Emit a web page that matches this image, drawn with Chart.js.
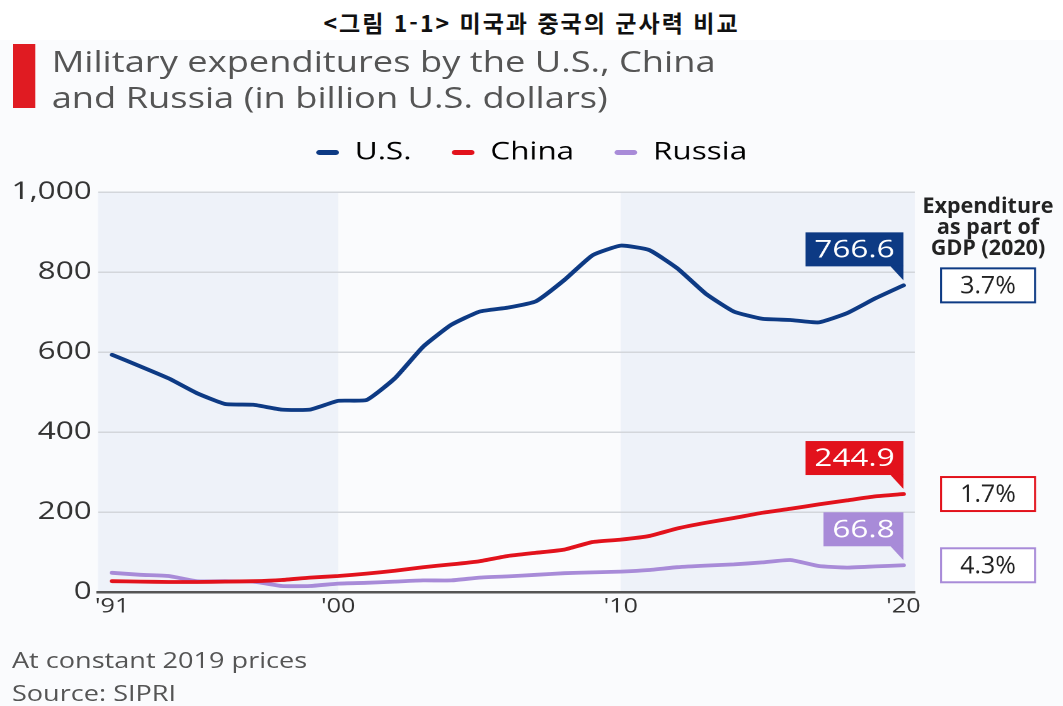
<!DOCTYPE html>
<html lang="ko">
<head>
<meta charset="utf-8">
<title>미국과 중국의 군사력 비교</title>
<script src="https://cdn.jsdelivr.net/npm/chart.js@4.4.1/dist/chart.umd.min.js"></script>
<style>
  html, body { margin: 0; padding: 0; background: #fff; }
  body { width: 1063px; height: 706px; position: relative; overflow: hidden; font-family: "Open Sans", sans-serif; }
  #fig-title {
    position: absolute; top: 6px; left: 0; width: 1063px; text-align: center;
    font-family: "Noto Sans CJK KR", sans-serif; font-weight: 700; font-size: 23px;
    letter-spacing: 2px; line-height: 32px; color: #111;
  }
  /* the graphic is laid out narrow and widened as a whole */
  #panel {
    position: absolute; left: 0; top: 40px; width: 844px; height: 666px;
    background: #fafbfd; transform: scaleX(1.26); transform-origin: 0 0;
  }
  #panel canvas { position: absolute; left: 0; top: 0; }
  .bar { position: absolute; left: 9.5px; top: 4px; width: 18.3px; height: 64px; background: #e01b22; }
  .headline { position: absolute; left: 41px; top: 3px; font-size: 28.8px; line-height: 36px; color: #555; }
  .note { position: absolute; left: 9.5px; font-size: 21.5px; line-height: 30px; color: #555; }
</style>
</head>
<body>
<div id="fig-title">&lt;그림 1-1&gt; 미국과 중국의 군사력 비교</div>
<div id="panel">
  <canvas id="chart" width="844" height="666"></canvas>
  <div class="bar"></div>
  <div class="headline">Military expenditures by the U.S., China<br>and Russia (in billion U.S. dollars)</div>
  <div class="note" style="top:605px">At constant 2019 prices</div>
  <div class="note" style="top:638px">Source: SIPRI</div>
</div>
<script>
const S = 1.26; // horizontal widening applied to #panel

const years = [1992, 1993, 1994, 1995, 1996, 1997, 1998, 1999, 2000, 2001,
               2002, 2003, 2004, 2005, 2006, 2007, 2008, 2009, 2010, 2011,
               2012, 2013, 2014, 2015, 2016, 2017, 2018, 2019, 2020];
const usSpend = [593, 564, 534, 497, 470, 468, 456, 456, 478, 480,
                 534, 613, 668, 701, 711, 727, 780, 842, 866, 855,
                 809, 746, 701, 683, 680, 674, 697, 734, 766.6];
const chinaSpend = [27, 26, 25, 25, 26, 27, 30, 36, 40, 46,
                    53, 62, 69, 77, 90, 98, 106, 125, 131, 140,
                    159, 173, 185, 198, 208, 219, 229, 239, 244.9];
const russiaSpend = [48, 43, 40, 27, 27, 26, 15, 15, 21, 23,
                     26, 29, 29, 36, 39, 43, 47, 49, 51, 55,
                     62, 66, 69, 74, 80, 65, 61, 64, 66.8];

const seriesNames = ['U.S.', 'China', 'Russia'];
const seriesColors = ['#0d3a84', '#e2121c', '#a88bd8'];
const gdpHeader = ['Expenditure', 'as part of', 'GDP (2020)'];
const gdpShare = ['3.7%', '1.7%', '4.3%'];

const xTickYears = [1992, 2000, 2010, 2020];
const xTickLabels = ["'91", "'00", "'10", "'20"];
const shadedBreaks = [2000, 2010]; // shaded before the first, after the second

const toPoints = (vals) => vals.map((v, i) => ({ x: years[i], y: v }));

Chart.defaults.font.family = '"Open Sans", sans-serif';

// empty strip between legend and plot; legend centred on the full width
const legendGap = {
  id: 'legendGap',
  beforeInit(chart) {
    Chart.layouts.addBox(chart, {
      position: 'top',
      weight: 500,
      fullSize: true,
      options: {},
      update(maxWidth) { this.width = maxWidth; this.height = 17; },
      isHorizontal() { return true; },
      draw() {}
    });
  },
  afterLayout(chart) {
    chart.legend.left = 0;
    chart.legend.right = chart.width;
  }
};

// light decade bands behind the grid
const decadeBands = {
  id: 'decadeBands',
  beforeDraw(chart) {
    const { ctx, chartArea: a, scales: { x } } = chart;
    const b0 = x.getPixelForValue(shadedBreaks[0]);
    const b1 = x.getPixelForValue(shadedBreaks[1]);
    ctx.save();
    ctx.fillStyle = '#eef2f9';
    ctx.fillRect(a.left, a.top, b0 - a.left, a.bottom - a.top);
    ctx.fillRect(b1, a.top, a.right - b1, a.bottom - a.top);
    ctx.restore();
  }
};

// value flags above the last point of each line
const endFlags = {
  id: 'endFlags',
  afterDatasetsDraw(chart) {
    const ctx = chart.ctx;
    ctx.save();
    ctx.font = '25px "Open Sans"';
    ctx.textAlign = 'center';
    ctx.textBaseline = 'middle';
    chart.data.datasets.forEach((ds, i) => {
      const meta = chart.getDatasetMeta(i);
      const pt = meta.data[meta.data.length - 1];
      const text = ds.data[ds.data.length - 1].y.toFixed(1);
      const w = ctx.measureText(text).width + 14;
      const h = 34;
      const bottom = pt.y - 19;
      const left = pt.x - w;
      ctx.fillStyle = ds.borderColor;
      ctx.fillRect(left, bottom - h, w, h);
      ctx.beginPath();
      ctx.moveTo(pt.x - 11, bottom - 1);
      ctx.lineTo(pt.x, bottom - 1);
      ctx.lineTo(pt.x, pt.y - 5);
      ctx.closePath();
      ctx.fill();
      ctx.fillStyle = '#fff';
      ctx.fillText(text, left + w / 2, bottom - h / 2 + 1);
    });
    ctx.restore();
  }
};

// GDP share column on the right, drawn in unwidened units
const gdpColumn = {
  id: 'gdpColumn',
  afterDraw(chart) {
    const { ctx, chartArea: a } = chart;
    const cx = 988;
    ctx.save();
    ctx.scale(1 / S, 1);
    ctx.textAlign = 'center';
    ctx.textBaseline = 'middle';
    ctx.fillStyle = '#222';
    ctx.font = 'bold 21.5px "Open Sans"';
    gdpHeader.forEach((line, k) => ctx.fillText(line, cx, a.top + 15 + k * 21));
    ctx.font = '25px "Open Sans"';
    chart.data.datasets.forEach((ds, i) => {
      const meta = chart.getDatasetMeta(i);
      const pt = meta.data[meta.data.length - 1];
      ctx.fillStyle = '#fff';
      ctx.fillRect(cx - 47, pt.y - 17, 94, 34);
      ctx.strokeStyle = ds.borderColor;
      ctx.lineWidth = 2;
      ctx.strokeRect(cx - 47, pt.y - 17, 94, 34);
      ctx.fillStyle = '#222';
      ctx.fillText(gdpShare[i], cx, pt.y + 1);
    });
    ctx.restore();
  }
};

new Chart(document.getElementById('chart'), {
  type: 'line',
  data: {
    datasets: [usSpend, chinaSpend, russiaSpend].map((vals, i) => ({
      label: seriesNames[i],
      data: toPoints(vals),
      borderColor: seriesColors[i],
      backgroundColor: seriesColors[i],
      borderWidth: 3.8,
      pointRadius: 0,
      tension: 0.15,
      borderJoinStyle: 'round',
      borderCapStyle: 'round'
    }))
  },
  options: {
    responsive: false,
    animation: false,
    devicePixelRatio: 2,
    layout: { padding: { top: 68, right: 118, bottom: 84, left: 0 } },
    plugins: {
      tooltip: { enabled: false },
      legend: {
        position: 'top',
        labels: {
          boxWidth: 18,
          boxHeight: 5,
          useBorderRadius: true,
          padding: 32,
          color: '#333',
          font: { size: 25 },
          generateLabels: (chart) => chart.data.datasets.map((ds, i) => ({
            text: ds.label,
            fillStyle: ds.borderColor,
            strokeStyle: ds.borderColor,
            lineWidth: 0,
            borderRadius: 2.5,
            datasetIndex: i,
            hidden: false
          }))
        }
      }
    },
    scales: {
      x: {
        type: 'linear',
        min: 1991.5,
        max: 2020.4,
        grid: { display: false, drawTicks: false },
        border: { display: true, color: '#555', width: 2.5 },
        afterBuildTicks: (s) => { s.ticks = xTickYears.map(v => ({ value: v })); },
        ticks: {
          color: '#333',
          font: { size: 20 },
          padding: 3,
          maxRotation: 0,
          autoSkip: false,
          callback: (v) => xTickLabels[xTickYears.indexOf(v)]
        }
      },
      y: {
        min: 0,
        max: 1000,
        grid: { color: '#d3d6db', lineWidth: 1.5, drawTicks: false },
        border: { display: false },
        afterFit: (s) => { s.width = 77.8; },
        ticks: {
          stepSize: 200,
          color: '#333',
          font: { size: 25 },
          padding: 5,
          callback: (v) => v.toLocaleString('en-US')
        }
      }
    }
  },
  plugins: [legendGap, decadeBands, endFlags, gdpColumn]
});
</script>
</body>
</html>
